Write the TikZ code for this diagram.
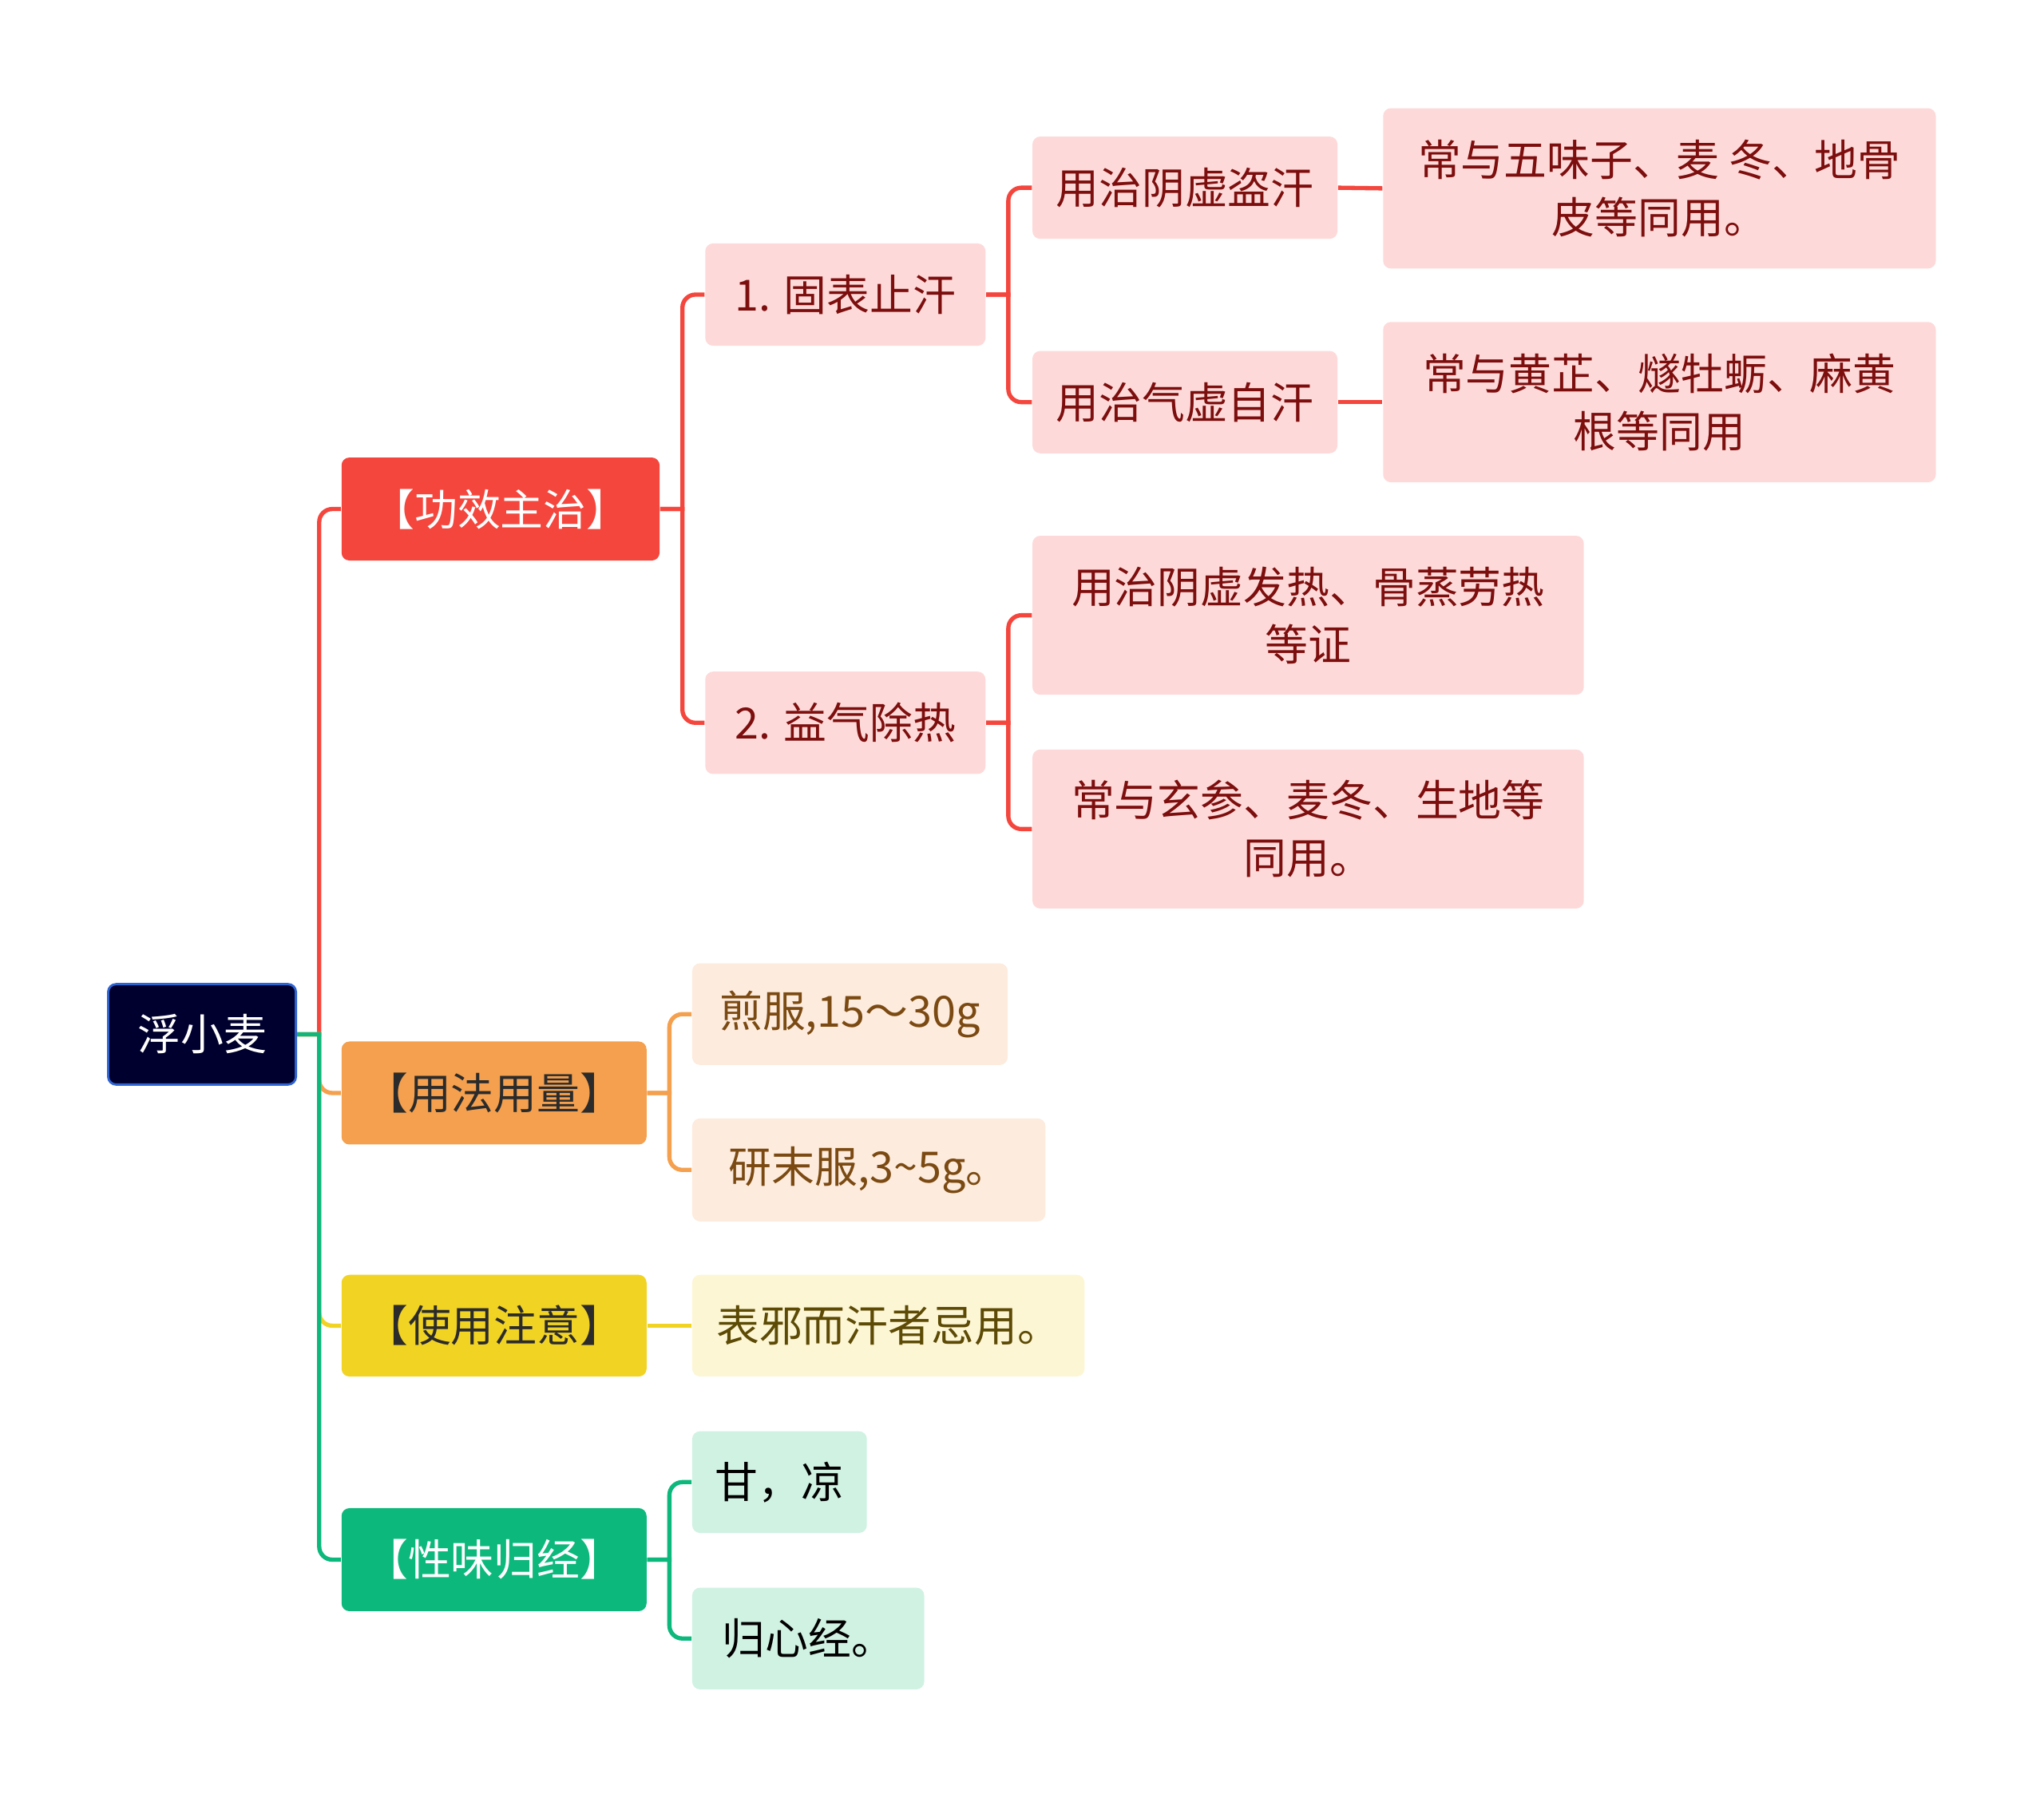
\documentclass[tikz,border=0pt]{standalone}
\usepackage{fontspec}
\setmainfont{Noto Sans CJK SC}
\usetikzlibrary{calc}
\definecolor{cRed}{HTML}{F4463D}
\definecolor{cOrange}{HTML}{F4A04E}
\definecolor{cYellow}{HTML}{F1D324}
\definecolor{cGreen}{HTML}{0DB87D}
\definecolor{cPink}{HTML}{FDDAD9}
\definecolor{cPinkText}{HTML}{7D0E0E}
\definecolor{cOrangeLight}{HTML}{FDEBDD}
\definecolor{cBrownText}{HTML}{7B4A12}
\definecolor{cYellowLight}{HTML}{FCF6D4}
\definecolor{cOliveText}{HTML}{5C4A05}
\definecolor{cGreenLight}{HTML}{D0F2E3}
\definecolor{cRootFill}{HTML}{00002E}
\definecolor{cRootBorder}{HTML}{2F63D0}
\definecolor{cDarkText}{HTML}{2B2B2B}
\newcommand\mmconn[3]{\draw[#1] (#2.east) -- ($(#2.east)+(17,0)$) [rounded corners=4pt] |- (#3.west);}
\begin{document}
\begin{tikzpicture}[x=0.4pt,y=-0.4pt,
  box/.style={rounded corners=2.4pt, align=center, inner sep=0pt,
    font=\fontsize{13.2}{17.6}\selectfont},
  rootbox/.style={box, fill=cRootFill, draw=cRootBorder, line width=0.7pt, text=white},
  redmain/.style={box, fill=cRed, text=white},
  orangemain/.style={box, fill=cOrange, text=cDarkText},
  yellowmain/.style={box, fill=cYellow, text=cDarkText},
  greenmain/.style={box, fill=cGreen, text=white},
  pinkbox/.style={box, fill=cPink, text=cPinkText},
  orangeleaf/.style={box, fill=cOrangeLight, text=cBrownText},
  yellowleaf/.style={box, fill=cYellowLight, text=cOliveText},
  greenleaf/.style={box, fill=cGreenLight, text=black},
  redline/.style={draw=cRed, line width=1.3pt},
  orangeline/.style={draw=cOrange, line width=1.3pt},
  yellowline/.style={draw=cYellow, line width=1.3pt},
  greenline/.style={draw=cGreen, line width=1.3pt}
]
\useasboundingbox (0,0) rectangle (1568,1379);

% root
\node[rootbox, minimum width=57.6pt, minimum height=30.8pt] (root) at (155,793.5) {浮小麦};

% level 1
\node[redmain, minimum width=97.6pt, minimum height=31.6pt] (gx) at (384,390.5) {【功效主治】};
\node[orangemain, minimum width=93.6pt, minimum height=31.6pt] (yf) at (379,838.5) {【用法用量】};
\node[yellowmain, minimum width=93.6pt, minimum height=31.2pt] (zy) at (379,1017) {【使用注意】};
\node[greenmain, minimum width=93.6pt, minimum height=31.6pt] (xw) at (379,1196.5) {【性味归经】};

% level 2 (red)
\node[pinkbox, minimum width=86pt, minimum height=31.4pt] (a1) at (648.5,226) {1. 固表止汗};
\node[pinkbox, minimum width=86pt, minimum height=31.4pt] (a2) at (648.5,554.5) {2. 益气除热};

% level 3 (red)
\node[pinkbox, minimum width=93.6pt, minimum height=31.4pt] (b1) at (909,144) {用治阴虚盗汗};
\node[pinkbox, minimum width=93.6pt, minimum height=31.4pt] (b2) at (909,308.5) {用治气虚自汗};
\node[pinkbox, minimum width=169.2pt, minimum height=48.8pt] (b3) at (1003.5,472) {用治阴虚发热、骨蒸劳热\\等证};
\node[pinkbox, minimum width=169.2pt, minimum height=48.8pt] (b4) at (1003.5,636) {常与玄参、麦冬、生地等\\同用。};

% level 4 (red)
\node[pinkbox, minimum width=169.6pt, minimum height=49.2pt] (c1) at (1273,144.5) {常与五味子、麦 冬、地骨\\皮等同用。};
\node[pinkbox, minimum width=169.6pt, minimum height=49.2pt] (c2) at (1273,308.5) {常与黄芷、燧牡蛎、麻黄\\根等同用};

% other leaves
\node[orangeleaf, minimum width=96.8pt, minimum height=31.2pt] (d1) at (652,778) {煎服,15～30g};
\node[orangeleaf, minimum width=108.4pt, minimum height=31.6pt] (d2) at (666.5,897.5) {研末服,3{\char`\~}5g。};
\node[yellowleaf, minimum width=120.4pt, minimum height=31.2pt] (e1) at (681.5,1017) {表邪而汗者忌用。};
\node[greenleaf, minimum width=53.6pt, minimum height=31.2pt] (f1) at (598,1137) {甘，凉};
\node[greenleaf, minimum width=71.2pt, minimum height=31.2pt] (f2) at (620,1257) {归心经。};

% connectors: root
\mmconn{redline}{root}{gx}
\mmconn{orangeline}{root}{yf}
\mmconn{yellowline}{root}{zy}
\mmconn{greenline}{root}{xw}

% red branch
\mmconn{redline}{gx}{a1}
\mmconn{redline}{gx}{a2}
\mmconn{redline}{a1}{b1}
\mmconn{redline}{a1}{b2}
\mmconn{redline}{a2}{b3}
\mmconn{redline}{a2}{b4}
\draw[redline] (b1.east) -- (c1.west);
\draw[redline] (b2.east) -- (c2.west);

% orange branch
\mmconn{orangeline}{yf}{d1}
\mmconn{orangeline}{yf}{d2}

% yellow branch
\draw[yellowline] (zy.east) -- (e1.west);

% green branch
\mmconn{greenline}{xw}{f1}
\mmconn{greenline}{xw}{f2}
\end{tikzpicture}
\end{document}
